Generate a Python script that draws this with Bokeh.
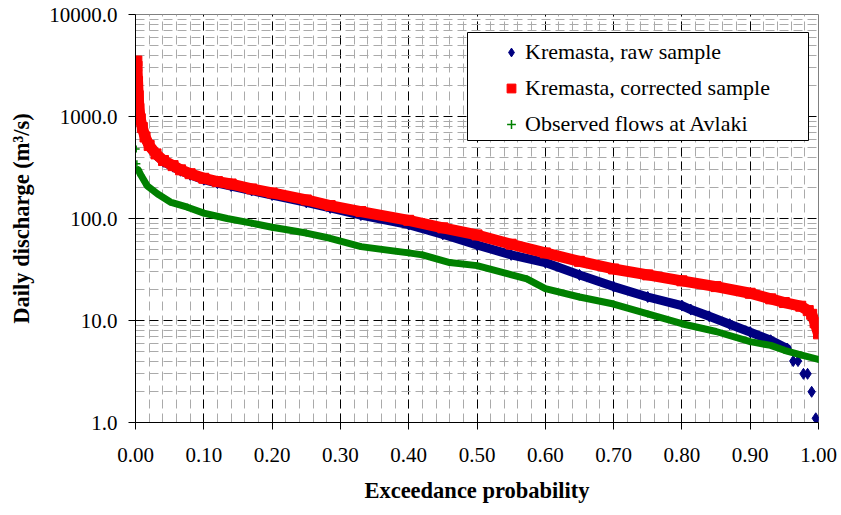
import numpy as np
from bokeh.plotting import figure
from bokeh.models import (Range1d, FixedTicker, PrintfTickFormatter, Legend,
                          LegendItem, BoxAnnotation)
from bokeh.embed import file_html
from bokeh.resources import INLINE

# ---------------- data ----------------
# Kremasta, raw sample
raw_p = [0.002, 0.003, 0.004, 0.006, 0.009, 0.014, 0.020, 0.030, 0.041, 0.055,
         0.066, 0.080, 0.100, 0.120, 0.140, 0.170, 0.200, 0.250, 0.285, 0.330,
         0.400, 0.450, 0.500, 0.550, 0.600, 0.650, 0.700, 0.750, 0.800, 0.813,
         0.840, 0.870, 0.900, 0.930, 0.954, 0.963, 0.970, 0.978, 0.984,
         0.990, 0.996, 1.000]
raw_q = [3400, 2100, 1250, 980, 780, 610, 510, 420, 360, 322,
         294, 268, 240, 222, 208, 188, 170, 144, 127, 108,
         87, 70, 55, 44, 37, 28, 21.5, 17, 14, 12.8,
         11, 9.2, 7.7, 6.4, 5.3, 4, 4, 3, 3,
         2, 1.1, 1]

# Kremasta, corrected sample
corr_p = [0.002, 0.002, 0.003, 0.004, 0.005, 0.007, 0.010, 0.014, 0.020, 0.030,
          0.041, 0.055, 0.066, 0.080, 0.100, 0.120, 0.140, 0.170, 0.200, 0.250,
          0.285, 0.330, 0.400, 0.450, 0.500, 0.550, 0.600, 0.650, 0.700, 0.750,
          0.800, 0.850, 0.900, 0.930, 0.950, 0.974, 0.985, 0.990, 0.995, 1.000]
corr_q = [3500, 3100, 2200, 1600, 1200, 950, 780, 630, 520, 430,
          370, 330, 300, 275, 248, 230, 218, 195, 178, 152,
          134, 117, 96, 81, 69, 56, 46, 38, 32, 28,
          24.5, 21.5, 18.5, 16.3, 15.0, 13.8, 12.5, 11.5, 9.5, 7.4]

# Observed flows at Avlaki
obs_p = [0.001, 0.002, 0.004, 0.008, 0.017, 0.032, 0.051, 0.076, 0.100, 0.134,
         0.170, 0.200, 0.250, 0.285, 0.330, 0.400, 0.420, 0.460, 0.500, 0.573,
         0.600, 0.650, 0.700, 0.750, 0.800, 0.850, 0.900, 0.930, 0.950, 0.974,
         1.000]
obs_q = [480, 345, 300, 265, 210, 175, 145, 129, 113, 100,
         90, 82, 72, 64, 53, 46, 44, 37, 34.5, 25.6,
         20.5, 17, 14.5, 11.6, 9.3, 7.8, 6.2, 5.7, 5.1, 4.6,
         4.15]

x_ticks = [0.0, 0.1, 0.2, 0.3, 0.4, 0.5, 0.6, 0.7, 0.8, 0.9, 1.0]
y_ticks = [1, 10, 100, 1000, 10000]
x_minor = [round(0.02 * k, 2) for k in range(51)]
y_minor = [m * d for d in [1, 10, 100, 1000] for m in range(2, 10)]

FONT = "Liberation Serif"

p = figure(width=841, height=515, x_range=Range1d(0, 1), y_range=Range1d(1, 10000),
           y_axis_type="log", output_backend="svg", toolbar_location=None,
           min_border_left=135, min_border_right=23, min_border_top=14,
           min_border_bottom=93)
p.outline_line_color = "#808080"
p.outline_line_width = 1

# ---------------- axes / ticks ----------------
p.xaxis.ticker = FixedTicker(ticks=x_ticks, minor_ticks=x_minor)
p.yaxis.ticker = FixedTicker(ticks=y_ticks, minor_ticks=y_minor)
p.xaxis.formatter = PrintfTickFormatter(format="%.2f")
p.yaxis.formatter = PrintfTickFormatter(format="%.1f")

for ax in (p.xaxis, p.yaxis):
    ax.axis_line_color = "black"
    ax.axis_line_width = 1
    ax.major_tick_line_color = "black"
    ax.major_tick_out = 7
    ax.major_tick_in = 0
    ax.minor_tick_line_color = None
    ax.major_label_text_font = FONT
    ax.major_label_text_font_size = "21px"
    ax.major_label_text_color = "black"
    ax.axis_label_text_font = FONT
    ax.axis_label_text_font_size = "22.5px"
    ax.axis_label_text_font_style = "bold"
    ax.axis_label_text_color = "black"

p.xaxis.axis_label = "Exceedance probability"
p.yaxis.axis_label = "Daily discharge (m³/s)"
p.xaxis.major_label_standoff = 18
p.xaxis.axis_label_standoff = 13
p.yaxis.major_label_standoff = 11
p.yaxis.axis_label_standoff = 12

# ---------------- grid ----------------
for g in (p.xgrid, p.ygrid):
    g.grid_line_color = "black"
    g.grid_line_width = 1
    g.grid_line_dash = "9 5"
    g.minor_grid_line_color = "#AAAAAA"
    g.minor_grid_line_width = 1
    g.minor_grid_line_dash = "9 5"

# ---------------- series ----------------
BLUE = "#000080"
RED = "#FF0000"
GREEN = "#008000"

n_line_raw = raw_p.index(0.954) + 1
p.line(raw_p[:n_line_raw], raw_q[:n_line_raw], line_color=BLUE, line_width=9,
       line_join="round", line_cap="round")
r_raw = p.scatter(raw_p, raw_q, marker="diamond", size=11,
                  fill_color=BLUE, line_color=BLUE)

p.line(corr_p, corr_q, line_color=RED, line_width=11, line_join="round",
       line_cap="butt")
r_corr = p.scatter(corr_p, corr_q, marker="square", size=10,
                   fill_color=RED, line_color=RED)

p.line(obs_p[2:], obs_q[2:], line_color=GREEN, line_width=7, line_join="round",
       line_cap="round")
r_obs = p.scatter(obs_p, obs_q, marker="cross", size=7, line_color=GREEN,
                  line_width=1.5)

# ---------------- legend ----------------
legend_box = BoxAnnotation(left=467, right=808, top=32, bottom=140,
                           left_units="canvas", right_units="canvas",
                           top_units="canvas", bottom_units="canvas",
                           fill_color="white", fill_alpha=1.0,
                           line_color="black", line_width=1, line_alpha=1.0)
p.add_layout(legend_box)

legend = Legend(items=[LegendItem(label="Kremasta, raw sample", renderers=[r_raw]),
                       LegendItem(label="Kremasta, corrected sample", renderers=[r_corr]),
                       LegendItem(label="Observed flows at Avlaki", renderers=[r_obs])],
                location=(365, 283), padding=0, spacing=6, margin=0,
                label_height=30, glyph_height=22, glyph_width=22,
                label_standoff=3,
                label_text_font=FONT, label_text_font_size="22px",
                label_text_color="black",
                border_line_alpha=0, background_fill_alpha=0)
p.add_layout(legend)

open("out.html", "w").write(file_html(p, INLINE))
